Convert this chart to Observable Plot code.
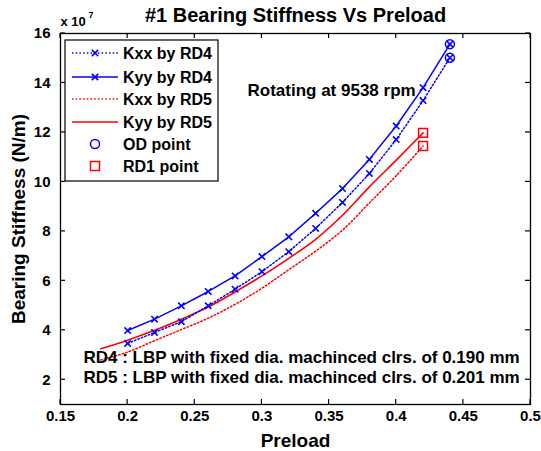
<!DOCTYPE html>
<html><head><meta charset="utf-8">
<script src="https://cdn.jsdelivr.net/npm/d3@7"></script>
<script src="https://cdn.jsdelivr.net/npm/@observablehq/plot@0.6"></script>
<style>
body{margin:0;background:#fff;}
#wrap{width:541px;height:451px;}
</style></head><body><div id="wrap"></div>
<script>
// ---- data ----
const preloadRD4 = [0.20,0.22,0.24,0.26,0.28,0.30,0.32,0.34,0.36,0.38,0.40,0.42,0.44];
const kxxRD4 = [3.47,3.91,4.35,4.99,5.66,6.37,7.18,8.12,9.17,10.34,11.71,13.29,15.02];
const kyyRD4 = [3.99,4.45,4.99,5.57,6.20,6.98,7.78,8.73,9.73,10.91,12.26,13.81,15.57];
const preloadRD5 = [0.18,0.20,0.22,0.24,0.26,0.28,0.30,0.32,0.34,0.36,0.38,0.40,0.42];
const kxxRD5 = [2.80,3.12,3.58,4.03,4.49,5.05,5.70,6.45,7.20,8.05,9.15,10.25,11.45];
const kyyRD5 = [3.25,3.60,4.00,4.45,4.94,5.55,6.20,6.91,7.68,8.65,9.80,10.88,11.98];
const xTicks = [0.15,0.2,0.25,0.3,0.35,0.4,0.45,0.5];
const yTicks = [2,4,6,8,10,12,14,16];
const legendLabels = ["Kxx by RD4","Kyy by RD4","Kxx by RD5","Kyy by RD5","OD point","RD1 point"];
const titleText = "#1 Bearing Stiffness Vs Preload";
const xLabel = "Preload";
const yLabel = "Bearing Stiffness (N/m)";
const rotText = "Rotating at 9538 rpm";
const noteRD4 = "RD4 : LBP with fixed dia. machinced clrs. of 0.190 mm";
const noteRD5 = "RD5 : LBP with fixed dia. machinced clrs. of 0.201 mm";

const BLUE = "#0000ff", RED = "#ff0000";
const FONT = "'Liberation Sans', Arial, Helvetica, sans-serif";
const W = 541, H = 451, ML = 60, MR = 11, MT = 33, MB = 47, TICK = 5;

const rd4 = preloadRD4.map((p,i)=>({p, kxx:kxxRD4[i], kyy:kyyRD4[i]}));
const rd5 = preloadRD5.map((p,i)=>({p, kxx:kxxRD5[i], kyy:kyyRD5[i]}));
const lastRD4 = rd4[rd4.length-1];
const lastRD5 = rd5[rd5.length-1];
const odPts = [{p:lastRD4.p, k:lastRD4.kxx},{p:lastRD4.p, k:lastRD4.kyy}];
const rd1Pts = [{p:lastRD5.p, k:lastRD5.kxx},{p:lastRD5.p, k:lastRD5.kyy}];

const fmt = d => String(+d.toFixed(2));
const txt = {fontFamily: FONT, fontWeight: "bold", fill: "black", lineAnchor: "middle"};

const chart = Plot.plot({
  width: W, height: H,
  marginLeft: ML, marginRight: MR, marginTop: MT, marginBottom: MB,
  style: {fontFamily: FONT, background: "white", overflow: "visible"},
  x: {domain: [0.15, 0.5]},
  y: {domain: [1, 16]},
  marks: [
    // tick labels
    Plot.axisX(xTicks, {anchor: "bottom", tickSize: 0, tickPadding: 6, tickFormat: fmt, label: null, fontSize: 15, fontWeight: "bold", fill: "black"}),
    Plot.axisY(yTicks, {anchor: "left", tickSize: 0, tickPadding: 10, label: null, fontSize: 15, fontWeight: "bold", fill: "black"}),
    // series
    Plot.line(rd5, {x: "p", y: "kxx", stroke: RED, strokeWidth: 1.5, strokeDasharray: "1.5,2.2", curve: "catmull-rom"}),
    Plot.line(rd5, {x: "p", y: "kyy", stroke: RED, strokeWidth: 1.6, curve: "catmull-rom"}),
    Plot.line(rd4, {x: "p", y: "kxx", stroke: BLUE, strokeWidth: 1.5, strokeDasharray: "1.5,2.2"}),
    Plot.line(rd4, {x: "p", y: "kyy", stroke: BLUE, strokeWidth: 1.5}),
    Plot.dot(rd4, {x: "p", y: "kxx", symbol: "times", r: 3, stroke: BLUE, strokeWidth: 1.6}),
    Plot.dot(rd4, {x: "p", y: "kyy", symbol: "times", r: 3, stroke: BLUE, strokeWidth: 1.6}),
    Plot.dot(odPts, {x: "p", y: "k", symbol: "circle", r: 4.5, stroke: BLUE, strokeWidth: 1.5}),
    Plot.dot(rd1Pts, {x: "p", y: "k", symbol: "square", r: 5, stroke: RED, strokeWidth: 1.5}),
    Plot.frame({stroke: "black", strokeWidth: 1.3}),
    // texts
    Plot.text([titleText], {text: d => d, frameAnchor: "top", textAnchor: "middle", dy: -18, fontSize: 20, ...txt}),
    Plot.text(["x 10"], {text: d => d, frameAnchor: "top-left", textAnchor: "start", dy: -12, fontSize: 13, ...txt}),
    Plot.text(["7"], {text: d => d, frameAnchor: "top-left", textAnchor: "start", dx: 28, dy: -18, fontSize: 9, ...txt}),
    Plot.text([xLabel], {text: d => d, frameAnchor: "bottom", textAnchor: "middle", dy: 36, fontSize: 19, ...txt}),
    Plot.text([yLabel], {text: d => d, frameAnchor: "left", textAnchor: "middle", dx: -42, rotate: -90, fontSize: 19, ...txt}),
    Plot.text([rotText], {text: d => d, frameAnchor: "top-left", textAnchor: "start", dx: 187, dy: 57, fontSize: 17, ...txt}),
    Plot.text([noteRD4], {text: d => d, frameAnchor: "bottom-left", textAnchor: "start", dx: 23, dy: -47, fontSize: 17, ...txt}),
    Plot.text([noteRD5], {text: d => d, frameAnchor: "bottom-left", textAnchor: "start", dx: 23, dy: -27, fontSize: 17, ...txt})
  ]
});
document.getElementById("wrap").appendChild(chart);

const svg = d3.select(chart);
// ---- inward ticks on all four sides, placed with Plot's own scales ----
const sx = chart.scale("x"), sy = chart.scale("y");
const x0 = sx.range[0], x1 = sx.range[1];
const yb = sy.range[0], yt = sy.range[1];
const tg = svg.append("g").attr("stroke", "black").attr("stroke-width", 1.2);
xTicks.forEach(v => {
  const X = sx.apply(v);
  tg.append("line").attr("x1", X).attr("x2", X).attr("y1", yb).attr("y2", yb - TICK);
  tg.append("line").attr("x1", X).attr("x2", X).attr("y1", yt).attr("y2", yt + TICK);
});
yTicks.forEach(v => {
  const Y = sy.apply(v);
  tg.append("line").attr("x1", x0).attr("x2", x0 + TICK).attr("y1", Y).attr("y2", Y);
  tg.append("line").attr("x1", x1).attr("x2", x1 - TICK).attr("y1", Y).attr("y2", Y);
});

// ---- legend (inside the axes, top-left) ----
const lg = svg.append("g").attr("transform", "translate(65,40)");
lg.append("rect").attr("width", 153).attr("height", 141).attr("fill", "white").attr("stroke", "black").attr("stroke-width", 1.2);
const rowY = [13, 37, 59, 82, 104, 126];
const styles = [
  {stroke: BLUE, dash: "1.5,2.2", marker: "times"},
  {stroke: BLUE, dash: null, marker: "times"},
  {stroke: RED, dash: "1.5,2.2", marker: null},
  {stroke: RED, dash: null, marker: null},
  {stroke: BLUE, line: false, marker: "circle"},
  {stroke: RED, line: false, marker: "square"}
];
legendLabels.forEach((lab, i) => {
  const s = styles[i], y = rowY[i];
  const g = lg.append("g").attr("transform", `translate(0,${y})`);
  if (s.line !== false) {
    g.append("line").attr("x1", 7).attr("x2", 53).attr("y1", 0).attr("y2", 0)
      .attr("stroke", s.stroke).attr("stroke-width", 1.5).attr("stroke-dasharray", s.dash);
  }
  if (s.marker === "times") {
    g.append("path").attr("d", d3.symbol(d3.symbolTimes, Math.PI * 9)()).attr("transform", "translate(30,0)")
      .attr("fill", "none").attr("stroke", s.stroke).attr("stroke-width", 1.6);
  } else if (s.marker === "circle") {
    g.append("circle").attr("cx", 30).attr("r", 4.5).attr("fill", "none").attr("stroke", s.stroke).attr("stroke-width", 1.5);
  } else if (s.marker === "square") {
    g.append("rect").attr("x", 25.5).attr("y", -4.5).attr("width", 9).attr("height", 9).attr("fill", "none").attr("stroke", s.stroke).attr("stroke-width", 1.5);
  }
  g.append("text").attr("x", 58).attr("dy", "0.36em").attr("text-anchor", "start").text(lab)
    .attr("font-family", FONT).attr("font-weight", "bold").attr("font-size", 16).attr("fill", "black");
});
</script></body></html>
